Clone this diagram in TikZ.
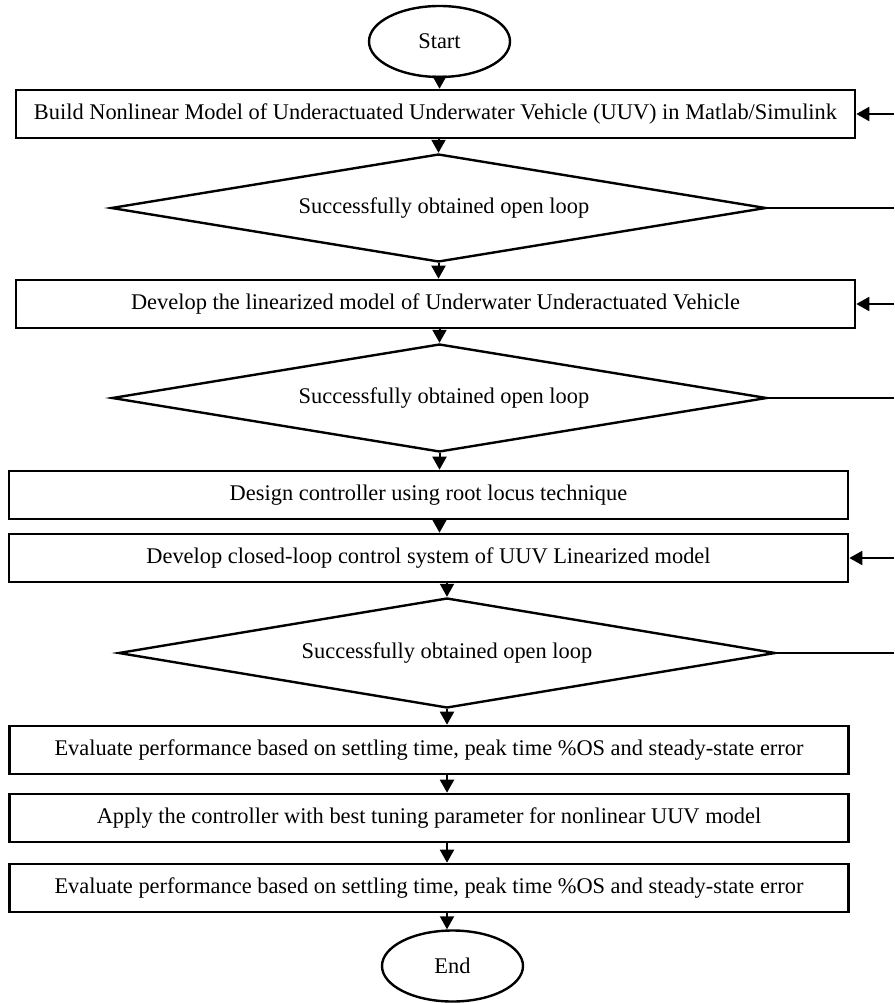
\documentclass[tikz,border=0pt]{standalone}
\usepackage{fontspec}
\setmainfont{Liberation Serif}
\usetikzlibrary{shapes.geometric,arrows.meta}
\begin{document}
\begin{tikzpicture}[x=1pt,y=-1pt,
  every node/.style={font=\fontsize{22.4}{26}\selectfont, inner sep=0pt},
  stepbox/.style={draw, line width=2.6pt, rectangle, minimum width=839pt, minimum height=48pt},
  term/.style={draw, line width=2.4pt, ellipse, minimum width=141pt, minimum height=71pt},
  decide/.style={draw, line width=2.4pt, diamond, aspect=6, minimum width=655pt, minimum height=108pt},
  arr/.style={line width=2pt, -{Triangle[length=13pt,width=14pt]}},
  fb/.style={line width=2pt}]
\useasboundingbox (0,0) rectangle (894,1003);
\coordinate (edge) at (894,0);
\node[term] (start) at (439.5,41.5) {Start};
\node[stepbox] (b1) at (435.5,114) {Build Nonlinear Model of Underactuated Underwater Vehicle (UUV) in Matlab/Simulink};
\node[decide] (d1) at (438.5,208) {\hspace*{11pt}Successfully obtained open loop};
\node[stepbox] (b2) at (435.5,304) {Develop the linearized model of Underwater Underactuated Vehicle};
\node[decide] (d2) at (439.5,398) {\hspace*{9pt}Successfully obtained open loop};
\node[stepbox] (b3) at (428.5,495) {Design controller using root locus technique};
\node[stepbox] (b4) at (428.5,558) {Develop closed-loop control system of UUV Linearized model};
\node[decide, minimum width=657pt, minimum height=110pt] (d3) at (447,653) {Successfully obtained open loop};
\node[stepbox] (b5) at (429,750) {Evaluate performance based on settling time, peak time \%OS and steady-state error};
\node[stepbox] (b6) at (429,818) {Apply the controller with best tuning parameter for nonlinear UUV model};
\node[stepbox] (b7) at (429,888) {Evaluate performance based on settling time, peak time \%OS and steady-state error};
\node[term] (end) at (452.5,966) {End};
% main flow
\draw[arr] (start.south) -- (start.south |- b1.north);
\draw[arr] (b1.south -| d1.north) -- (d1.north);
\draw[arr] (d1.south) -- (d1.south |- b2.north);
\draw[arr] (b2.south -| d2.north) -- (d2.north);
\draw[arr] (d2.south) -- (d2.south |- b3.north);
\draw[arr] (b3.south -| d2.south) -- (b4.north -| d2.south);
\draw[arr] (b4.south -| d3.north) -- (d3.north);
\draw[arr] (d3.south) -- (d3.south |- b5.north);
\draw[arr] (b5.south -| d3.south) -- (b6.north -| d3.south);
\draw[arr] (b6.south -| d3.south) -- (b7.north -| d3.south);
\draw[arr] (b7.south -| d3.south) -- (end.north -| d3.south);
% feedback
\draw[fb] (d1.east) -- (d1.east -| edge);
\draw[fb] (d2.east) -- (d2.east -| edge);
\draw[fb] (d3.east) -- (d3.east -| edge);
\draw[arr] (b1.east -| edge) -- (b1.east);
\draw[arr] (b2.east -| edge) -- (b2.east);
\draw[arr] (b4.east -| edge) -- (b4.east);
\end{tikzpicture}
\end{document}
